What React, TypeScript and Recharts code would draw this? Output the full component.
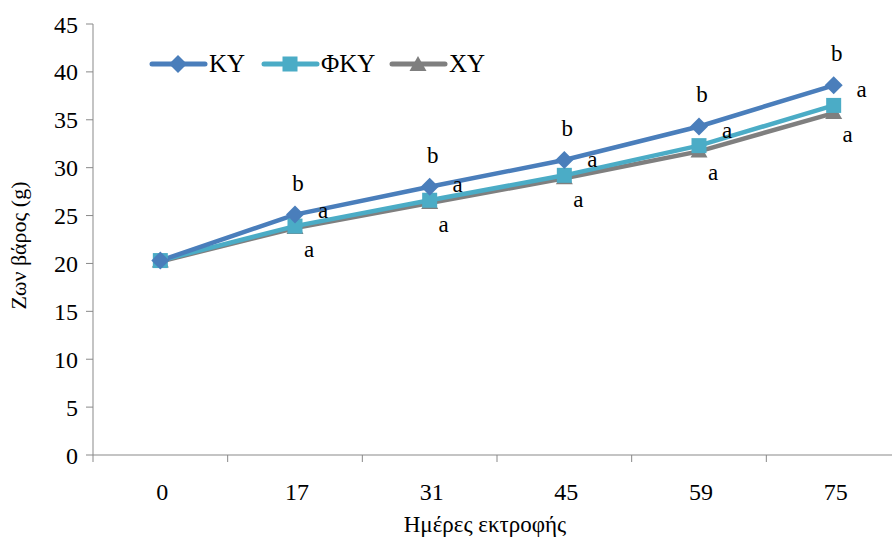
import React from 'react';
import {
  LineChart,
  Line,
  XAxis,
  YAxis,
  LabelList,
  Label,
} from 'recharts';

// days of rearing and live weight (g)
const days = ['0', '17', '31', '45', '59', '75'];
const ky = [20.3, 25.1, 28.0, 30.8, 34.3, 38.6];
const fky = [20.3, 23.9, 26.6, 29.2, 32.3, 36.5];
const xy = [20.2, 23.7, 26.3, 28.9, 31.7, 35.7];
const kySig = ['', 'b', 'b', 'b', 'b', 'b'];
const fkySig = ['', 'a', 'a', 'a', 'a', 'a'];
const xySig = ['', 'a', 'a', 'a', 'a', 'a'];
const yTicks = [0, 5, 10, 15, 20, 25, 30, 35, 40, 45];

const data = days.map((d, i) => ({
  day: d,
  ky: ky[i],
  fky: fky[i],
  xy: xy[i],
  kySig: kySig[i],
  fkySig: fkySig[i],
  xySig: xySig[i],
}));

const FONT = '"Liberation Serif", "DejaVu Serif", serif';
const AXIS = '#898989';
const C_KY = '#4a7ebb';
const C_FKY = '#4bacc6';
const C_XY = '#7f7f7f';

const W = 910;
const H = 538;
const LEFT = 93;
const RIGHT = 9;
const BAND = (W - LEFT - RIGHT) / days.length;

const Diamond = (props: any) => {
  const { cx, cy, fill } = props;
  if (cx == null || cy == null) return null;
  const r = 9;
  return <path d={`M${cx},${cy - r}L${cx + r},${cy}L${cx},${cy + r}L${cx - r},${cy}Z`} fill={fill} />;
};

const Square = (props: any) => {
  const { cx, cy, fill } = props;
  if (cx == null || cy == null) return null;
  const s = 7.5;
  return <rect x={cx - s} y={cy - s} width={s * 2} height={s * 2} fill={fill} />;
};

const Triangle = (props: any) => {
  const { cx, cy, fill } = props;
  if (cx == null || cy == null) return null;
  return <path d={`M${cx},${cy - 9}L${cx + 8.5},${cy + 6}L${cx - 8.5},${cy + 6}Z`} fill={fill} />;
};

const sigLabel = (dx: number, dy: number) => (props: any) => {
  const { x, y, value } = props;
  if (!value) return null;
  return (
    <text x={x + dx} y={y + dy} textAnchor="middle" fontFamily={FONT} fontSize={23} fill="#000">
      {value}
    </text>
  );
};

const XTick = (props: any) => {
  const { x, y, payload, index } = props;
  const top = y - 8;
  return (
    <g>
      <line x1={x - BAND / 2} y1={top} x2={x - BAND / 2} y2={top + 7} stroke={AXIS} />
      {index === days.length - 1 && (
        <line x1={x + BAND / 2} y1={top} x2={x + BAND / 2} y2={top + 7} stroke={AXIS} />
      )}
      <text x={x + 2} y={top + 45} textAnchor="middle" fontFamily={FONT} fontSize={24} fill="#000">
        {payload.value}
      </text>
    </g>
  );
};

const YTitle = (props: any) => {
  const { viewBox } = props;
  const cx = 26;
  const cy = viewBox.y + viewBox.height / 2 + 6;
  return (
    <text
      x={cx}
      y={cy}
      transform={`rotate(-90 ${cx} ${cy})`}
      textAnchor="middle"
      fontFamily={FONT}
      fontSize={22}
      fill="#000"
    >
      Ζων βάρος (g)
    </text>
  );
};

const legendItems = [
  { name: 'ΚΥ', color: C_KY, shape: 'diamond', left: 148 },
  { name: 'ΦΚΥ', color: C_FKY, shape: 'square', left: 260 },
  { name: 'ΧΥ', color: C_XY, shape: 'triangle', left: 388 },
];

const ChartLegend = () => (
  <>
    {legendItems.map((it) => (
      <div
        key={it.name}
        style={{
          position: 'absolute',
          left: it.left,
          top: 49,
          display: 'flex',
          alignItems: 'center',
          fontFamily: FONT,
          fontSize: 25,
          lineHeight: '30px',
        }}
      >
        <svg width={60} height={30}>
          <line x1={4} y1={15} x2={57} y2={15} stroke={it.color} strokeWidth={5} strokeLinecap="round" />
          {it.shape === 'diamond' && <Diamond cx={30} cy={15} fill={it.color} />}
          {it.shape === 'square' && <Square cx={30} cy={15} fill={it.color} />}
          {it.shape === 'triangle' && <Triangle cx={30} cy={16} fill={it.color} />}
        </svg>
        <span style={{ marginLeft: 1 }}>{it.name}</span>
      </div>
    ))}
  </>
);

export default function App() {
  return (
    <div style={{ position: 'absolute', left: 0, top: 0, width: 892, height: 538, overflow: 'hidden', background: '#fff' }}>
      <LineChart width={W} height={H} data={data} margin={{ top: 24, right: RIGHT, left: 0, bottom: 0 }}>
        <XAxis
          dataKey="day"
          height={83}
          stroke={AXIS}
          tickLine={false}
          tick={<XTick />}
          interval={0}
          padding={{ left: BAND / 2, right: BAND / 2 }}
        >
          <Label
            value="Ημέρες εκτροφής"
            position="insideBottom"
            offset={6}
            style={{ fontFamily: FONT, fontSize: 23, fill: '#000' }}
            dx={-12}
          />
        </XAxis>
        <YAxis
          width={LEFT}
          domain={[0, 45]}
          ticks={yTicks}
          interval={0}
          stroke={AXIS}
          tickSize={7}
          tickMargin={8}
          tick={{ fontFamily: FONT, fontSize: 24, fill: '#000' }}
        >
          <Label content={<YTitle />} />
        </YAxis>
        <Line
          dataKey="xy"
          name="ΧΥ"
          stroke={C_XY}
          strokeWidth={4.5}
          dot={<Triangle fill={C_XY} />}
          isAnimationActive={false}
        >
          <LabelList dataKey="xySig" content={sigLabel(14, 29)} />
        </Line>
        <Line
          dataKey="fky"
          name="ΦΚΥ"
          stroke={C_FKY}
          strokeWidth={4.5}
          dot={<Square fill={C_FKY} />}
          isAnimationActive={false}
        >
          <LabelList dataKey="fkySig" content={sigLabel(28, -8)} />
        </Line>
        <Line
          dataKey="ky"
          name="ΚΥ"
          stroke={C_KY}
          strokeWidth={4.5}
          dot={<Diamond fill={C_KY} />}
          isAnimationActive={false}
        >
          <LabelList dataKey="kySig" content={sigLabel(3, -24)} />
        </Line>
      </LineChart>
      <ChartLegend />
    </div>
  );
}
